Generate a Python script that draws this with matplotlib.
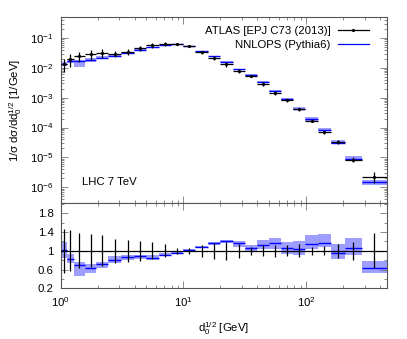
import numpy as np
import matplotlib
matplotlib.use("Agg")
import matplotlib.pyplot as plt
from matplotlib.ticker import LogLocator, NullFormatter, MultipleLocator, FixedLocator, FixedFormatter
from matplotlib.lines import Line2D

plt.rcParams['font.family'] = ['Liberation Sans', 'DejaVu Sans']
plt.rcParams['mathtext.fontset'] = 'custom'
plt.rcParams['mathtext.rm'] = 'Liberation Sans'
plt.rcParams['mathtext.it'] = 'Liberation Sans:italic'
plt.rcParams['mathtext.bf'] = 'Liberation Sans:bold'

# ---- data ----
bin_edges = [1.0, 1.13, 1.28, 1.58, 1.95, 2.45, 3.12, 3.95, 4.98, 6.27, 7.94, 9.9,
             12.5, 15.8, 19.9, 25.1, 31.5, 39.5, 49.4, 62.3, 78.3, 98.2, 123.6,
             158.0, 207.0, 282.0, 450.0]
atlas_vals = [0.0134, 0.0197, 0.024, 0.029, 0.031, 0.030, 0.035, 0.046, 0.056, 0.063,
              0.063, 0.052, 0.0335, 0.0214, 0.0135, 0.0077, 0.0053, 0.0029, 0.00145,
              0.00083, 0.00041, 0.000165, 7.0e-5, 3.3e-5, 8.5e-6, 2.3e-6]
atlas_relerr = [0.47, 0.44, 0.37, 0.35, 0.33, 0.26, 0.24, 0.21, 0.18, 0.14, 0.065, 0.06,
                0.13, 0.17, 0.19, 0.15, 0.08, 0.12, 0.13, 0.12, 0.14, 0.08, 0.10, 0.15,
                0.19, 0.37]
mc_ratio = [1.02, 0.83, 0.69, 0.63, 0.71, 0.80, 0.87, 0.88, 0.855, 0.92, 0.96, 1.01,
            1.08, 1.16, 1.20, 1.16, 1.06, 1.13, 1.16, 1.05, 1.04, 1.15, 1.17, 0.95,
            1.06, 0.64]
mc_band_lo = [0.855, 0.74, 0.46, 0.53, 0.63, 0.74, 0.80, 0.82, 0.81, 0.89, 0.94, 0.99,
              1.06, 1.13, 1.16, 1.09, 0.98, 1.04, 1.04, 0.94, 0.91, 1.04, 1.08, 0.83,
              0.92, 0.52]
mc_band_hi = [1.19, 0.94, 0.76, 0.71, 0.77, 0.88, 0.92, 0.92, 0.90, 0.95, 0.98, 1.03,
              1.11, 1.19, 1.22, 1.21, 1.13, 1.22, 1.28, 1.18, 1.21, 1.34, 1.36, 1.135,
              1.28, 0.78]

edges = np.array(bin_edges)
lo_e, hi_e = edges[:-1], edges[1:]
centers = np.sqrt(lo_e * hi_e)
data = np.array(atlas_vals)
derr = data * np.array(atlas_relerr)
ratio = np.array(mc_ratio)
mc = data * ratio
blo = data * np.array(mc_band_lo)
bhi = data * np.array(mc_band_hi)

W, H = 407, 339
fig = plt.figure(figsize=(W / 100, H / 100), dpi=100)
L, R = 60.5 / W, 386.7 / W
top, mid, bot = 17 / H, 203 / H, 288.3 / H
ax = fig.add_axes([L, 1 - mid, R - L, mid - top])
axr = fig.add_axes([L, 1 - bot, R - L, bot - mid], sharex=ax)

blue = '#0000ff'
band = (0.62, 0.62, 1.0)
fs = 8.2

# main panel
for i in range(len(data)):
    ax.fill_between([lo_e[i], hi_e[i]], blo[i], bhi[i], color=band, lw=0, zorder=1)
ax.hlines(mc, lo_e, hi_e, color=blue, lw=1.0, zorder=2)
ax.hlines(data, lo_e, hi_e, color='black', lw=0.9, zorder=3)
ax.errorbar(centers, data, yerr=derr, fmt='o', ms=1.3, color='black', lw=0.9,
            capsize=0, zorder=4)

ax.set_xscale('log')
ax.set_yscale('log')
ax.set_xlim(1.0, 450)
ax.set_ylim(3e-7, 0.5)

h1 = Line2D([], [], color='black', lw=0.9, marker='o', ms=1.3)
h2 = Line2D([], [], color=blue, lw=0.9)
ax.legend([h1, h2], ['ATLAS [EPJ C73 (2013)]', 'NNLOPS (Pythia6)'],
          loc='upper right', frameon=False, markerfirst=False, fontsize=fs,
          handlelength=2.8, handletextpad=0.6, labelspacing=0.35,
          borderaxespad=0.4, bbox_to_anchor=(0.975, 1.0))

ax.text(1.49, 1.5e-6, 'LHC 7 TeV', fontsize=fs, ha='left', va='center')
ax.set_ylabel(r'1/σ dσ/d$\mathregular{d_0^{1/2}}$ [1/GeV]', fontsize=fs, labelpad=4)

# ratio panel
for i in range(len(data)):
    axr.fill_between([lo_e[i], hi_e[i]], mc_band_lo[i], mc_band_hi[i], color=band,
                     lw=0, zorder=1)
axr.hlines(ratio, lo_e, hi_e, color=blue, lw=1.0, zorder=2)
axr.axhline(1.0, color='black', lw=0.9, zorder=3)
axr.errorbar(centers, np.ones_like(data), yerr=np.array(atlas_relerr), fmt='none',
             color='black', lw=0.9, capsize=0, zorder=4)
axr.set_ylim(0.2, 2.02)
axr.yaxis.set_major_locator(FixedLocator([0.2, 0.6, 1.0, 1.4, 1.8]))
axr.yaxis.set_major_formatter(FixedFormatter(['0.2', '0.6', '1', '1.4', '1.8']))
axr.yaxis.set_minor_locator(MultipleLocator(0.2))
axr.set_xlabel(r'$\mathregular{d_0^{1/2}}$ [GeV]', fontsize=fs, labelpad=8)

for a in (ax, axr):
    a.tick_params(which='both', direction='in', top=True, right=True, labelsize=fs,
                  color='#777777')
    a.tick_params(which='major', length=5, width=0.6, pad=5)
    a.tick_params(which='minor', length=2.5, width=0.6)
    for s in a.spines.values():
        s.set_color('#555555')
        s.set_linewidth(0.8)
    a.xaxis.set_major_locator(LogLocator(base=10, numticks=10))
    a.xaxis.set_minor_locator(LogLocator(base=10, subs=np.arange(2, 10), numticks=20))
    a.xaxis.set_minor_formatter(NullFormatter())
ax.yaxis.set_major_locator(FixedLocator([1e-6, 1e-5, 1e-4, 1e-3, 1e-2, 1e-1]))
ax.yaxis.set_minor_locator(LogLocator(base=10, subs=np.arange(2, 10), numticks=20))
ax.yaxis.set_minor_formatter(NullFormatter())
ax.tick_params(labelbottom=False)
ax.set_xlim(1.0, 450)

fig.savefig('out.png', dpi=100)
